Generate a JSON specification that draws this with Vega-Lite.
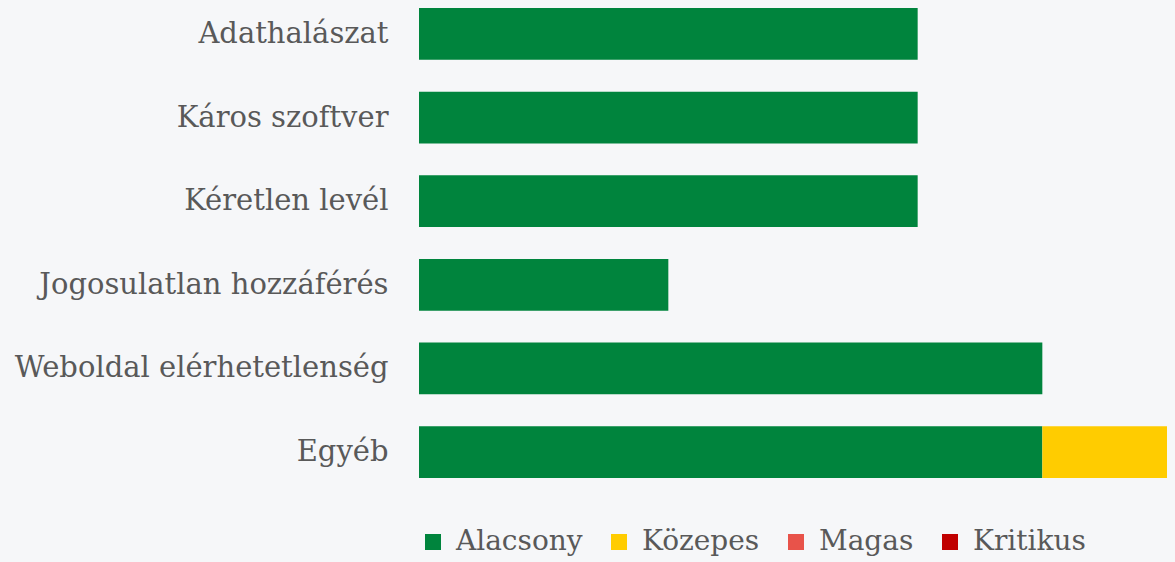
{
  "$schema": "https://vega.github.io/schema/vega-lite/v6.json",
  "width": 748,
  "height": 470,
  "autosize": {"type": "none"},
  "padding": {"left": 419, "top": 8, "right": 8, "bottom": 84},
  "background": "#f6f7f9",
  "config": {"view": {"stroke": null}, "font": "DejaVu Serif"},
  "data": {"values": [
    {"kategoria": "Adathalászat", "szint": "Alacsony", "rend": 1, "db": 4},
    {"kategoria": "Káros szoftver", "szint": "Alacsony", "rend": 1, "db": 4},
    {"kategoria": "Kéretlen levél", "szint": "Alacsony", "rend": 1, "db": 4},
    {"kategoria": "Jogosulatlan hozzáférés", "szint": "Alacsony", "rend": 1, "db": 2},
    {"kategoria": "Weboldal elérhetetlenség", "szint": "Alacsony", "rend": 1, "db": 5},
    {"kategoria": "Egyéb", "szint": "Alacsony", "rend": 1, "db": 5},
    {"kategoria": "Egyéb", "szint": "Közepes", "rend": 2, "db": 1}
  ]},
  "mark": {"type": "bar"},
  "encoding": {
    "y": {
      "field": "kategoria", "type": "nominal",
      "sort": ["Adathalászat", "Káros szoftver", "Kéretlen levél", "Jogosulatlan hozzáférés", "Weboldal elérhetetlenség", "Egyéb"],
      "scale": {"paddingInner": 0.38, "paddingOuter": 0},
      "axis": {"title": null, "ticks": false, "domain": false, "labelFontSize": 29, "labelColor": "#595959", "labelPadding": 31, "labelLimit": 500, "labelFont": "DejaVu Serif"}
    },
    "x": {
      "field": "db", "type": "quantitative", "stack": "zero",
      "scale": {"domain": [0, 6], "nice": false},
      "axis": null
    },
    "color": {
      "field": "szint", "type": "nominal",
      "scale": {"domain": ["Alacsony", "Közepes", "Magas", "Kritikus"], "range": ["#00843d", "#ffcc00", "#e8534a", "#c00000"]},
      "legend": {"title": null, "orient": "bottom", "direction": "horizontal", "offset": 50, "symbolType": "square", "symbolSize": 256, "symbolStrokeWidth": 0, "symbolOpacity": 1, "labelFontSize": 28, "labelColor": "#595959", "labelFont": "DejaVu Serif", "columnPadding": 22, "labelOffset": 9, "labelLimit": 300}
    },
    "order": {"field": "rend", "type": "quantitative"}
  }
}
